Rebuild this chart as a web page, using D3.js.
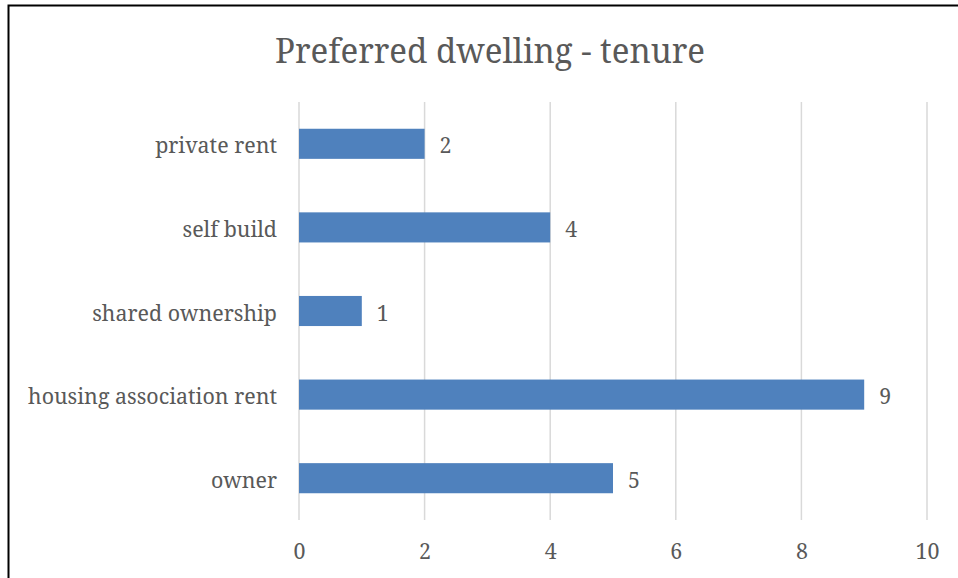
<!DOCTYPE html>
<html>
<head>
<meta charset="utf-8">
<script src="https://cdn.jsdelivr.net/npm/d3@7"></script>
<style>
  html, body { margin: 0; padding: 0; background: #fff; }
  svg { display: block; }
  text { font-family: "Noto Serif", "DejaVu Serif", serif; fill: #595959; }
</style>
</head>
<body>
<svg id="chart" width="958" height="578"></svg>
<script>
const categories = ["private rent", "self build", "shared ownership", "housing association rent", "owner"];
const values = [2, 4, 1, 9, 5];
const xTicks = [0, 2, 4, 6, 8, 10];
const title = "Preferred dwelling - tenure";

const svg = d3.select("#chart");
const W = 958, H = 578;
const plot = { left: 299, right: 927, top: 102, bottom: 520 };
const labelSize = "21.4px";

// chart frame
svg.append("rect")
  .attr("x", 8.5).attr("y", 5.5)
  .attr("width", W + 10).attr("height", H + 10)
  .attr("fill", "#fff").attr("stroke", "#000").attr("stroke-width", 2);

svg.append("text")
  .attr("x", 490).attr("y", 63)
  .attr("text-anchor", "middle")
  .attr("textLength", 430).attr("lengthAdjust", "spacingAndGlyphs")
  .style("font-size", "34px")
  .text(title);

const x = d3.scaleLinear().domain([0, 10]).range([plot.left, plot.right]);
const y = d3.scaleBand().domain(categories).range([plot.top, plot.bottom]).paddingInner(0.64).paddingOuter(0.32);

// vertical gridlines
svg.append("g").selectAll("line").data(xTicks).join("line")
  .attr("x1", d => x(d)).attr("x2", d => x(d))
  .attr("y1", plot.top).attr("y2", plot.bottom)
  .attr("stroke", "#d9d9d9").attr("stroke-width", 1.5);

// x axis labels
const xAxis = d3.axisBottom(x).tickValues(xTicks).tickSize(0).tickPadding(24);
const gx = svg.append("g").attr("transform", `translate(0,${plot.bottom})`).call(xAxis);
gx.select(".domain").remove();
gx.selectAll("text").style("font-size", labelSize).style("font-family", null).attr("fill", "#595959");

// category labels
const yAxis = d3.axisLeft(y).tickSize(0).tickPadding(22);
const gy = svg.append("g").attr("transform", `translate(${plot.left},0)`).call(yAxis);
gy.select(".domain").remove();
gy.selectAll("text").style("font-size", labelSize).style("font-family", null)
  .attr("fill", "#595959").attr("dy", "0.45em");

// bars
const data = categories.map((c, i) => ({ c, v: values[i] }));
svg.append("g").selectAll("rect").data(data).join("rect")
  .attr("x", x(0)).attr("y", d => y(d.c))
  .attr("width", d => x(d.v) - x(0)).attr("height", y.bandwidth())
  .attr("fill", "#4f81bd");

// value labels
svg.append("g").selectAll("text").data(data).join("text")
  .attr("x", d => x(d.v) + 15).attr("y", d => y(d.c) + y.bandwidth() / 2)
  .attr("dy", "0.45em")
  .style("font-size", labelSize)
  .text(d => d.v);
</script>
</body>
</html>
